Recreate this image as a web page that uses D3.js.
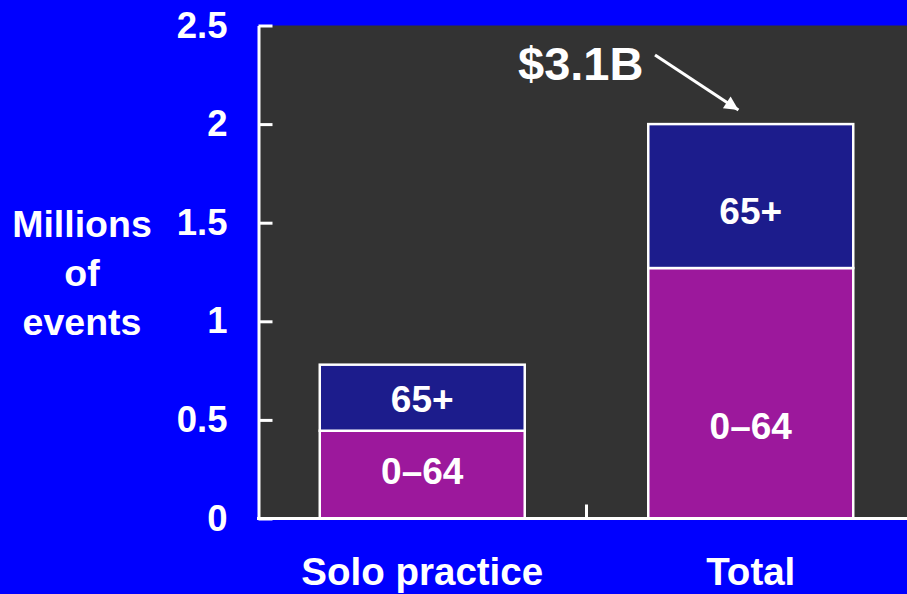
<!DOCTYPE html>
<html>
<head>
<meta charset="utf-8">
<script src="https://cdn.jsdelivr.net/npm/d3@7"></script>
<style>
  html, body { margin: 0; padding: 0; background: #0000FF; }
  svg { display: block; }
  text { font-family: "Liberation Sans", Arial, sans-serif; font-weight: bold; fill: #ffffff; }
</style>
</head>
<body>
<svg id="chart" width="907" height="594"></svg>
<script>
const categories = ["Solo practice", "Total"];
const groups = ["0–64", "65+"];
const values0to64 = [0.445, 1.27];
const values65plus = [0.335, 0.73];
const labelAt0to64 = [0.243, 0.472];
const labelAt65plus = [0.608, 1.562];
const yTicks = [0, 0.5, 1, 1.5, 2, 2.5];
const yTickLabels = ["0", "0.5", "1", "1.5", "2", "2.5"];
const yTitle = ["Millions", "of", "events"];
const annotation = "$3.1B";

(function () {
const colors = { "0–64": "#9C189C", "65+": "#1C1C8C" };

const svg = d3.select("#chart");
const W = 907, H = 594;
const mLeft = 258.5, mTop = 25.5, mBottom = 518.5;

svg.append("rect").attr("width", W).attr("height", H).attr("fill", "#0000FF");

const y = d3.scaleLinear().domain([0, 2.5]).range([mBottom, mTop]);
const x = d3.scaleBand().domain(categories).range([258, 915])
  .paddingInner(0.376).paddingOuter(0.188);

// plot area
svg.append("rect").attr("x", mLeft).attr("y", mTop).attr("width", W - mLeft).attr("height", mBottom - mTop)
  .attr("fill", "#333333");

// stacked data
const rows = categories.map((c, i) => ({ cat: c, "0–64": values0to64[i], "65+": values65plus[i] }));
const stack = d3.stack().keys(groups)(rows);

const gBars = svg.append("g");
stack.forEach(layer => {
  gBars.selectAll(null).data(layer).enter().append("rect")
    .attr("x", d => x(d.data.cat))
    .attr("y", d => y(d[1]))
    .attr("width", x.bandwidth())
    .attr("height", d => y(d[0]) - y(d[1]))
    .attr("fill", colors[layer.key])
    .attr("stroke", "#ffffff")
    .attr("stroke-width", 2.5);
});

// segment labels
const labelRows = [
  { key: "0–64", at: labelAt0to64 },
  { key: "65+", at: labelAt65plus }
];
labelRows.forEach(lr => {
  categories.forEach((c, i) => {
    svg.append("text")
      .attr("x", x(c) + x.bandwidth() / 2)
      .attr("y", y(lr.at[i]))
      .attr("dy", "0.36em")
      .attr("text-anchor", "middle")
      .style("font-size", "37px")
      .text(lr.key);
  });
});

// y axis
const yAxis = d3.axisLeft(y).tickValues(yTicks).tickFormat((d, i) => yTickLabels[i]).tickSizeInner(-14).tickSizeOuter(0).tickPadding(31);
const gy = svg.append("g").attr("transform", `translate(${mLeft},0)`).call(yAxis);
gy.select(".domain").attr("stroke", "#fff").attr("stroke-width", 3);
gy.selectAll(".tick line").attr("stroke", "#fff").attr("stroke-width", 3);
gy.selectAll(".tick text").style("font-size", "36.5px").attr("fill", "#fff")
  .style("font-family", "'Liberation Sans', Arial, sans-serif").style("font-weight", "bold");

// x axis
const xAxis = d3.axisBottom(x).tickSize(0).tickPadding(39);
const gx = svg.append("g").attr("transform", `translate(0,${mBottom})`).call(xAxis);
gx.select(".domain").remove();
svg.append("line").attr("x1", mLeft - 1.5).attr("x2", W).attr("y1", mBottom).attr("y2", mBottom)
  .attr("stroke", "#fff").attr("stroke-width", 3);
gx.selectAll(".tick text").style("font-size", "38.5px").attr("fill", "#fff")
  .style("font-family", "'Liberation Sans', Arial, sans-serif").style("font-weight", "bold")
  .attr("dy", "0.71em");
// category separator tick
const sepX = x(categories[1]) - x.step() * x.paddingInner() / 2;
svg.append("line").attr("x1", sepX).attr("x2", sepX).attr("y1", mBottom).attr("y2", mBottom - 14)
  .attr("stroke", "#fff").attr("stroke-width", 3);

// y title
const yt = svg.append("text").attr("text-anchor", "middle").style("font-size", "37.5px");
yTitle.forEach((t, i) => {
  yt.append("tspan").attr("x", 82).attr("y", 237 + i * 49).text(t);
});

// annotation
svg.append("defs").append("marker").attr("id", "ah").attr("viewBox", "0 0 10 10")
  .attr("refX", 10).attr("refY", 5).attr("markerWidth", 18).attr("markerHeight", 14)
  .attr("markerUnits", "userSpaceOnUse").attr("orient", "auto")
  .append("path").attr("d", "M0,0 L10,5 L0,10 Z").attr("fill", "#fff");
const totalTop = y(values0to64[1] + values65plus[1]);
const tipX = x(categories[1]) + x.bandwidth() * 0.44;
svg.append("line").attr("x1", 655).attr("y1", 55).attr("x2", tipX).attr("y2", totalTop - 14)
  .attr("stroke", "#fff").attr("stroke-width", 3).attr("marker-end", "url(#ah)");
svg.append("text").attr("x", 518).attr("y", 80).style("font-size", "47px").text(annotation);
})();
</script>
</body>
</html>
